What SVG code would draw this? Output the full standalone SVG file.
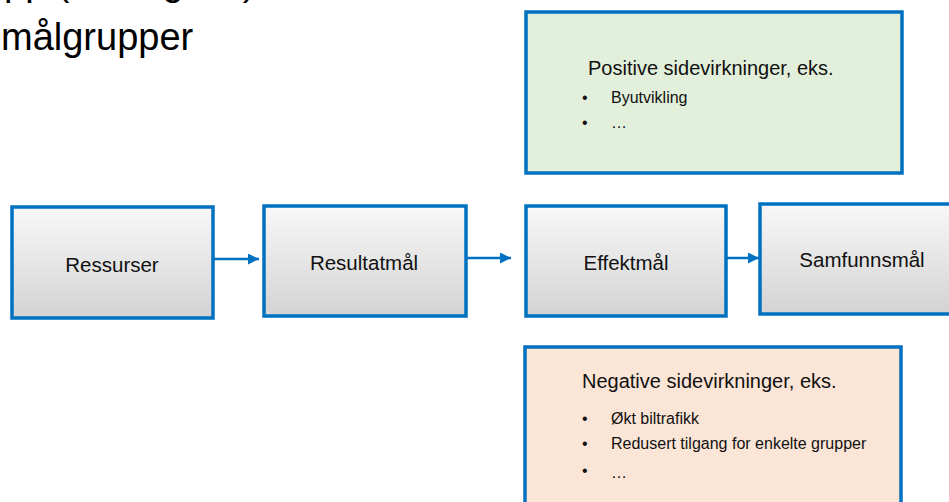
<svg xmlns="http://www.w3.org/2000/svg" width="949" height="502" viewBox="0 0 949 502">
<defs>
<linearGradient id="grey" x1="0" y1="0" x2="0" y2="1">
<stop offset="0" stop-color="#f8f8f8"/>
<stop offset="1" stop-color="#d3d3d3"/>
</linearGradient>
<marker id="arr" viewBox="0 0 10 10" refX="10" refY="5" markerWidth="4.4" markerHeight="4.4" orient="auto" markerUnits="strokeWidth">
<path d="M0,0 L10,5 L0,10 z" fill="#0070C0"/>
</marker>
</defs>
<style>
.box{fill:url(#grey);stroke:#0070C0;stroke-width:3.5}
.pos{fill:#E2EFDA;stroke:#0070C0;stroke-width:3.5}
.neg{fill:#FBE5D6;stroke:#0070C0;stroke-width:3.5}
.lbl{font-family:"Liberation Sans",Arial,sans-serif;font-size:20.5px;fill:#111;text-anchor:middle}
.hd{font-family:"Liberation Sans",Arial,sans-serif;font-size:20px;fill:#111}
.it{font-family:"Liberation Sans",Arial,sans-serif;font-size:16px;fill:#111}
.title{font-family:"Liberation Sans",Arial,sans-serif;font-size:38px;fill:#000}
.conn{stroke:#0070C0;stroke-width:2.5;fill:none;marker-end:url(#arr)}
</style>
<g id="title">
<text class="title" x="4" y="-5">pp (mål og tall)</text>
<text class="title" x="1" y="50">målgrupper</text>
</g>
<g id="positive">
<rect class="pos" x="526" y="12" width="376" height="161"/>
<text class="hd" x="588" y="75">Positive sidevirkninger, eks.</text>
<text class="it" x="582" y="103">•</text>
<text class="it" x="611" y="103">Byutvikling</text>
<text class="it" x="582" y="128">•</text>
<text class="it" x="611" y="128">…</text>
</g>
<g id="ressurser">
<rect class="box" x="12" y="207" width="201" height="111"/>
<text class="lbl" x="112" y="272">Ressurser</text>
</g>
<g id="resultatmal">
<rect class="box" x="264" y="206" width="202" height="110"/>
<text class="lbl" x="364" y="270">Resultatmål</text>
</g>
<g id="effektmal">
<rect class="box" x="526" y="206" width="200" height="110"/>
<text class="lbl" x="626" y="270">Effektmål</text>
</g>
<g id="samfunnsmal">
<rect class="box" x="760" y="204" width="200" height="110"/>
<text class="lbl" x="862" y="267">Samfunnsmål</text>
</g>
<g id="negative">
<rect class="neg" x="525" y="347" width="376" height="170"/>
<text class="hd" x="582" y="388">Negative sidevirkninger, eks.</text>
<text class="it" x="582" y="424">•</text>
<text class="it" x="611" y="424">Økt biltrafikk</text>
<text class="it" x="582" y="449">•</text>
<text class="it" x="611" y="449">Redusert tilgang for enkelte grupper</text>
<text class="it" x="582" y="476">•</text>
<text class="it" x="611" y="478">…</text>
</g>
<g id="connectors">
<line class="conn" x1="213" y1="259" x2="259" y2="259"/>
<line class="conn" x1="466" y1="258" x2="511" y2="258"/>
<line class="conn" x1="726" y1="258" x2="759" y2="258"/>
</g>
</svg>
